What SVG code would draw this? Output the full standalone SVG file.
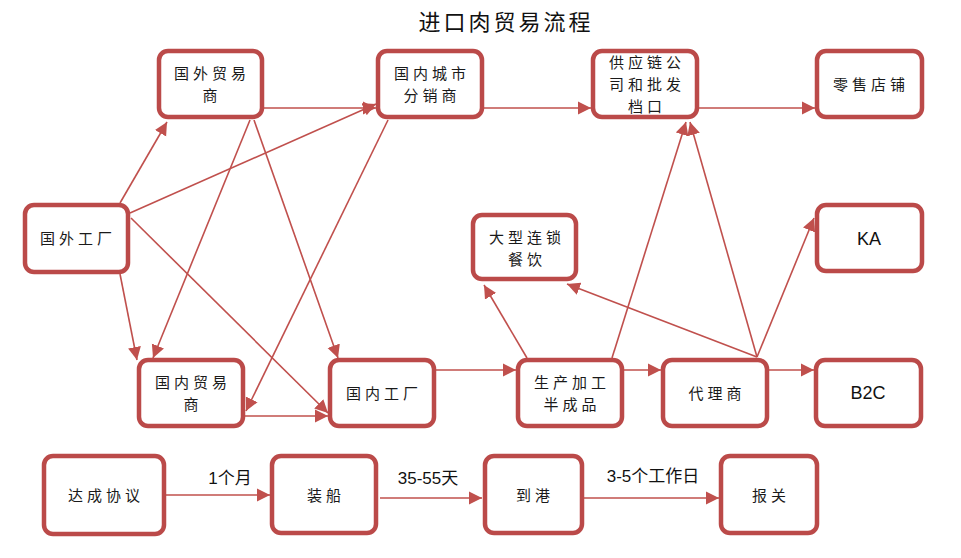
<svg xmlns="http://www.w3.org/2000/svg" width="961" height="558" viewBox="0 0 961 558">
<style>
.box{fill:#fff;stroke:#bb4a49;stroke-width:4.5}
.t{font-family:"Noto Sans CJK SC","Liberation Sans",sans-serif;font-size:15px;fill:#1a1a1a;text-anchor:middle;letter-spacing:4px}
.l{font-family:"Liberation Sans","Noto Sans CJK SC",sans-serif;font-size:18px;fill:#111;text-anchor:middle}
.lab{font-family:"Liberation Sans","Noto Sans CJK SC",sans-serif;font-size:17px;fill:#111;text-anchor:middle}
.c line{stroke:#c0504d;stroke-width:1.6;marker-end:url(#ah)}
.title{font-family:"Noto Sans CJK SC",sans-serif;font-size:22px;fill:#111;text-anchor:middle;letter-spacing:3px}
</style>
<defs>
<marker id="ah" markerUnits="userSpaceOnUse" markerWidth="14" markerHeight="14" refX="13" refY="7" orient="auto">
<path d="M0,0.5 L13,7 L0,13.5 z" fill="#c0504d"/>
</marker>
</defs>
<rect width="961" height="558" fill="#fff"/>
<text class="title" x="506" y="30">进口肉贸易流程</text>
<g class="c" id="connectors">
<line x1="120" y1="203" x2="167" y2="122"/>
<line x1="130" y1="213" x2="376" y2="104"/>
<line x1="264" y1="108" x2="376" y2="108"/>
<line x1="250" y1="120" x2="153" y2="358"/>
<line x1="254" y1="120" x2="338" y2="358"/>
<line x1="388" y1="120" x2="246" y2="411"/>
<line x1="120" y1="274" x2="137" y2="360"/>
<line x1="131" y1="218" x2="328" y2="413"/>
<line x1="245" y1="416" x2="328" y2="416"/>
<line x1="484" y1="108" x2="591" y2="108"/>
<line x1="699" y1="108" x2="815" y2="108"/>
<line x1="436" y1="370" x2="516" y2="370"/>
<line x1="527" y1="358" x2="484" y2="285"/>
<line x1="612" y1="358" x2="686" y2="122"/>
<line x1="757" y1="357" x2="690" y2="122"/>
<line x1="757" y1="357" x2="814" y2="218"/>
<line x1="757" y1="357" x2="567" y2="284"/>
<line x1="624" y1="370" x2="661" y2="370"/>
<line x1="769" y1="370" x2="814" y2="370"/>
<line x1="166" y1="495" x2="270" y2="495"/>
<line x1="380" y1="498" x2="482" y2="498"/>
<line x1="584" y1="498" x2="719" y2="498"/>
</g>
<g id="labels">
<text class="lab" x="230" y="484">1个月</text>
<text class="lab" x="428" y="484">35-55天</text>
<text class="lab" x="653" y="482">3-5个工作日</text>
</g>
<g id="n1"><rect class="box" x="159" y="51" width="103" height="66" rx="9"/><text class="t" x="212" y="79">国外贸易</text><text class="t" x="212" y="101">商</text></g>
<g id="n2"><rect class="box" x="378" y="51" width="104" height="66" rx="9"/><text class="t" x="432" y="79">国内城市</text><text class="t" x="432" y="101">分销商</text></g>
<g id="n3"><rect class="box" x="593" y="51" width="104" height="66" rx="9"/><text class="t" x="647" y="68">供应链公</text><text class="t" x="647" y="90">司和批发</text><text class="t" x="647" y="112">档口</text></g>
<g id="n4"><rect class="box" x="817" y="51" width="105" height="66" rx="9"/><text class="t" x="871" y="90">零售店铺</text></g>
<g id="n5"><rect class="box" x="25" y="205" width="103" height="67" rx="9"/><text class="t" x="78" y="244">国外工厂</text></g>
<g id="n6"><rect class="box" x="473" y="215" width="103" height="64" rx="9"/><text class="t" x="527" y="243">大型连锁</text><text class="t" x="527" y="265">餐饮</text></g>
<g id="n7"><rect class="box" x="817" y="205" width="105" height="66" rx="9"/><text class="l" x="869" y="245">KA</text></g>
<g id="n8"><rect class="box" x="139" y="360" width="104" height="66" rx="9"/><text class="t" x="193" y="388">国内贸易</text><text class="t" x="193" y="410">商</text></g>
<g id="n9"><rect class="box" x="330" y="360" width="104" height="66" rx="9"/><text class="t" x="384" y="399">国内工厂</text></g>
<g id="n10"><rect class="box" x="518" y="360" width="104" height="66" rx="9"/><text class="t" x="572" y="388">生产加工</text><text class="t" x="572" y="410">半成品</text></g>
<g id="n11"><rect class="box" x="663" y="360" width="104" height="66" rx="9"/><text class="t" x="717" y="399">代理商</text></g>
<g id="n12"><rect class="box" x="816" y="360" width="105" height="66" rx="9"/><text class="l" x="868" y="399">B2C</text></g>
<g id="n13"><rect class="box" x="44" y="456" width="120" height="78" rx="9"/><text class="t" x="106" y="501">达成协议</text></g>
<g id="n14"><rect class="box" x="272" y="456" width="104" height="77" rx="9"/><text class="t" x="326" y="501">装船</text></g>
<g id="n15"><rect class="box" x="485" y="456" width="97" height="77" rx="9"/><text class="t" x="535" y="501">到港</text></g>
<g id="n16"><rect class="box" x="721" y="456" width="96" height="77" rx="9"/><text class="t" x="771" y="501">报关</text></g>
</svg>
